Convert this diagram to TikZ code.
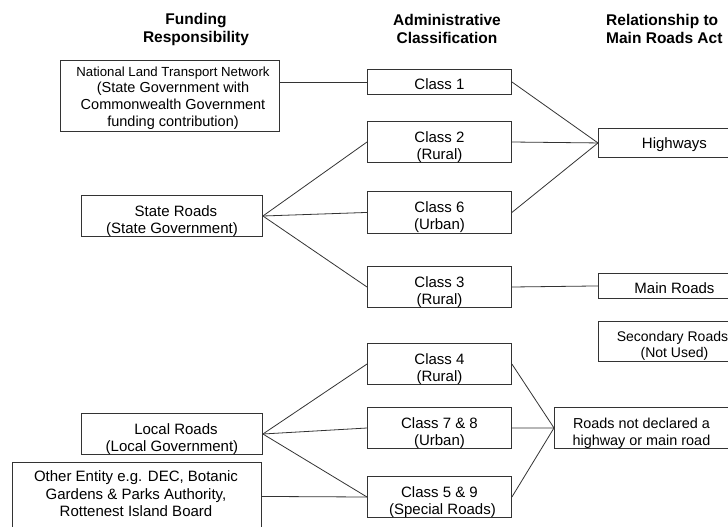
\documentclass[tikz,border=0pt]{standalone}
\usepackage{fontspec}
\setmainfont{Liberation Sans}
\newcommand{\tstr}{\rule{0pt}{21pt}}
\begin{document}
\begin{tikzpicture}[x=1pt,y=-1pt,
  box/.style={draw=black!80, line width=0.9pt, anchor=north west, inner sep=0pt, align=center, font=\fontsize{15}{17}\selectfont},
  one/.style={box, execute at begin node={\rule{0pt}{15pt}}},
  two/.style={box},
  hdr/.style={font=\bfseries\fontsize{15.5}{18}\selectfont, inner sep=0pt},
  txt/.style={align=center, inner sep=0pt, font=\fontsize{14.5}{16.8}\selectfont},
  link/.style={draw=black!80, line width=0.8pt}]
\useasboundingbox (0,0) rectangle (728,527);
% headers
\node[hdr, align=center] (h1) at (196,29) {Funding\\Responsibility};
\node[hdr, align=center] (h2) at (447,29) {Administrative\\Classification};
\node[hdr, align=left, anchor=west] (h3) at (606,29) {Relationship to\\Main Roads Act};
% left column
\node[box, minimum width=219pt, minimum height=71pt] (nltn) at (60,60) {};
\node[txt] (nltnt) at (173,98)
  {{\fontsize{13.2}{16.6}\selectfont National Land Transport Network}\\(State Government with\\Commonwealth Government\\funding contribution)};
\node[two, minimum width=181pt, minimum height=41pt] (sr) at (81,195) {\tstr\hspace*{8pt}State Roads\\(State Government)};
\node[two, minimum width=181pt, minimum height=40pt] (lr) at (81,413) {\tstr\hspace*{8pt}Local Roads\\(Local Government)};
\node[box, minimum width=249pt, minimum height=68pt] (oe) at (12,462) {};
\node[txt, font=\fontsize{15}{17.4}\selectfont] (oet) at (136,494)
  {Other Entity e.g. DEC, Botanic\\Gardens \& Parks Authority,\\Rottenest Island Board};
% middle column
\node[one, minimum width=144pt, minimum height=25pt] (c1) at (367,69) {Class 1};
\node[two, minimum width=144pt, minimum height=40pt] (c2) at (367,121) {\tstr Class 2\\(Rural)};
\node[two, minimum width=144pt, minimum height=42pt] (c6) at (367,191) {\tstr Class 6\\(Urban)};
\node[two, minimum width=144pt, minimum height=41pt] (c3) at (367,266) {\tstr Class 3\\(Rural)};
\node[two, minimum width=144pt, minimum height=40pt] (c4) at (367,343) {\tstr Class 4\\(Rural)};
\node[two, minimum width=144pt, minimum height=41pt] (c78) at (367,407) {\tstr Class 7 \& 8\\(Urban)};
\node[two, minimum width=144pt, minimum height=40pt] (c59) at (367,476) {\tstr Class 5 \& 9\\\hspace*{6pt}(Special Roads)};
% right column
\node[one, minimum width=152pt, minimum height=29pt] (hw) at (598,128) {Highways};
\node[one, minimum width=152pt, minimum height=25pt] (mr) at (598,273) {Main Roads};
\node[two, minimum width=152pt, minimum height=40pt, font=\fontsize{14}{16.5}\selectfont] (sec) at (598,321) {\rule{0pt}{19pt}\hspace*{-4pt}Secondary Roads\\(Not Used)};
\node[two, minimum width=174pt, minimum height=41pt, font=\fontsize{14.4}{16.6}\selectfont] (nd) at (554,407) {\tstr Roads not declared a\\highway or main road};
% connectors
\draw[link] (nltn.east |- c1.west) -- (c1.west);
\draw[link] (sr.east) -- (c2.west);
\draw[link] (sr.east) -- (c6.west);
\draw[link] (sr.east) -- (c3.west);
\draw[link] (lr.east) -- (c4.west);
\draw[link] (lr.east) -- (c78.west);
\draw[link] (lr.east) -- (c59.west);
\draw[link] (oe.east) -- (c59.west);
\draw[link] (c1.east) -- (hw.west);
\draw[link] (c2.east) -- (hw.west);
\draw[link] (c6.east) -- (hw.west);
\draw[link] (c3.east) -- (mr.west);
\draw[link] (c4.east) -- (nd.west);
\draw[link] (c78.east) -- (nd.west);
\draw[link] (c59.east) -- (nd.west);
\end{tikzpicture}
\end{document}
